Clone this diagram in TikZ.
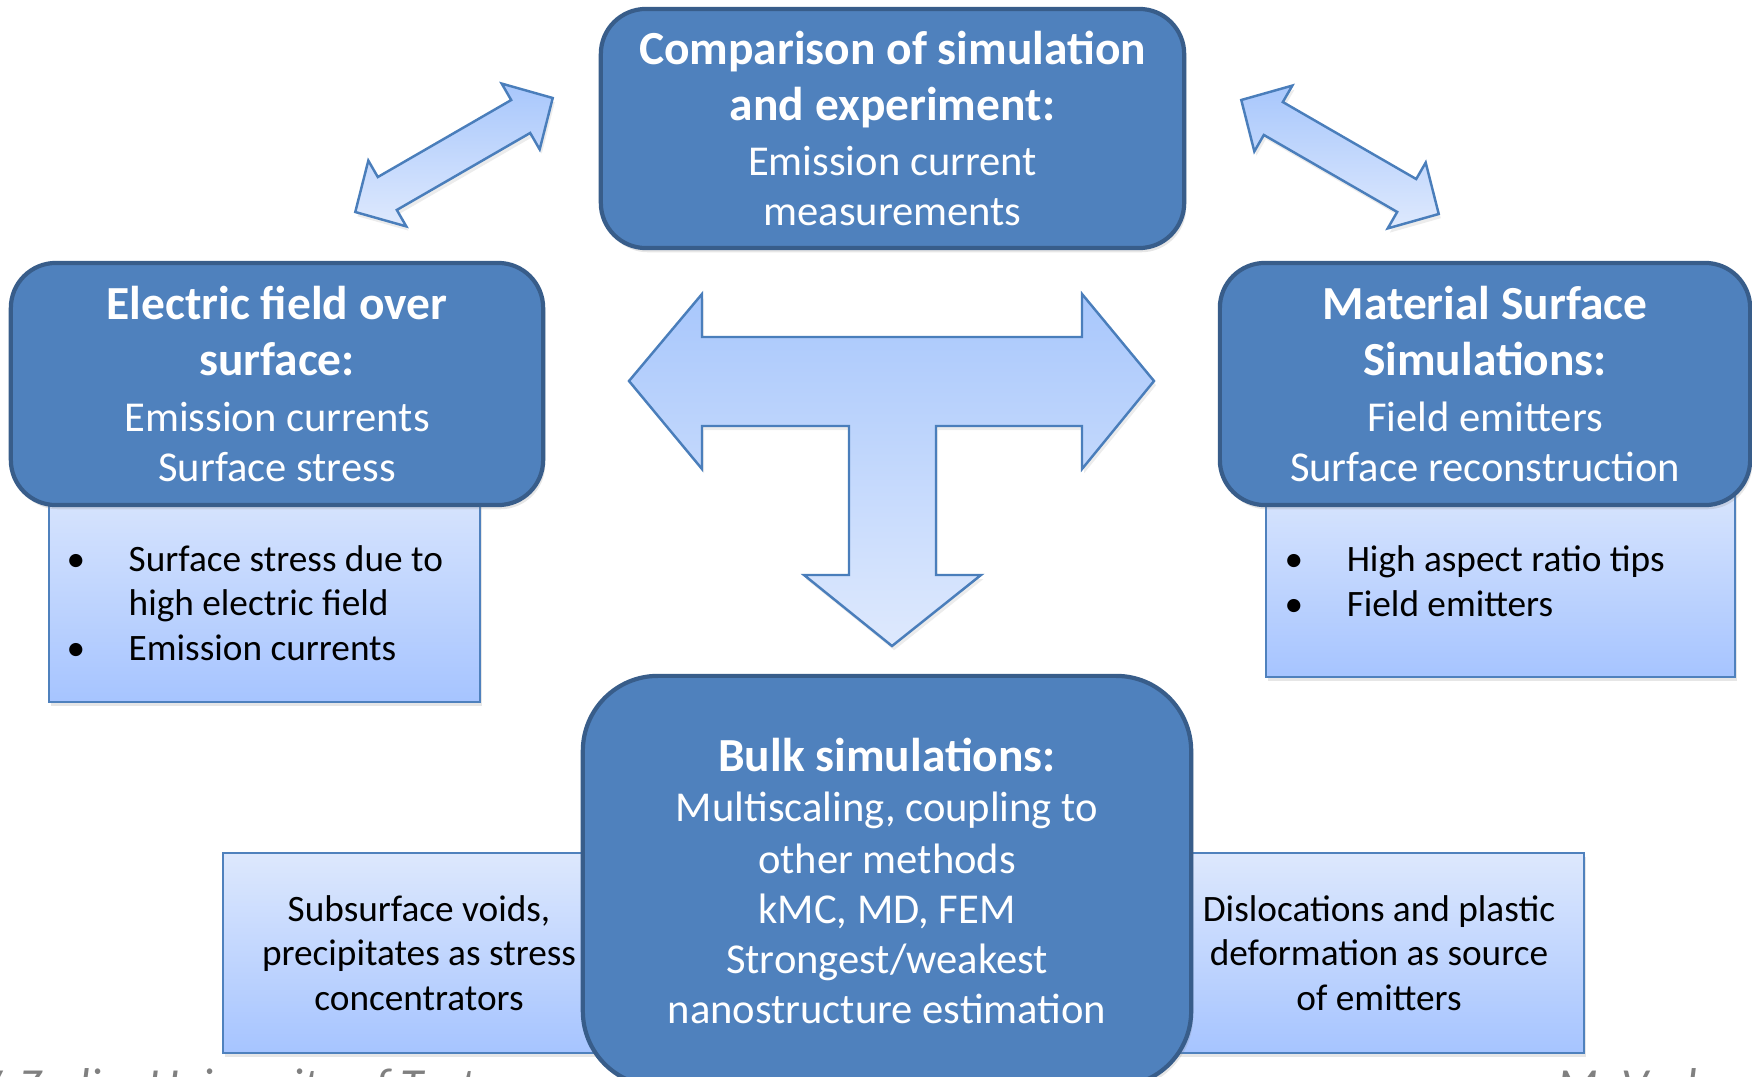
\documentclass[tikz,border=0pt]{standalone}
\usepackage{fontspec}
\setmainfont{Carlito}
\usepackage{tikz}
\usetikzlibrary{shadows}
\definecolor{boxblue}{RGB}{79,129,189}
\definecolor{boxedge}{RGB}{56,93,138}
\definecolor{paletop}{RGB}{221,232,253}
\definecolor{palebot}{RGB}{166,196,255}
\definecolor{arrowedge}{RGB}{74,126,187}
\definecolor{arrowdark}{RGB}{168,199,252}
\definecolor{arrowlight}{RGB}{222,233,253}
\definecolor{footgray}{RGB}{128,128,128}
\newcommand{\ttlfont}{\fontsize{13.5}{14.2}\selectfont\bfseries}
\newcommand{\bdyfont}{\fontsize{12.1}{14.2}\selectfont\mdseries}
\newcommand{\bulfont}{\fontsize{10.6}{12.7}\selectfont}

\begin{document}
\begin{tikzpicture}[x=0.01cm,y=-0.01cm,
    topic/.style={draw=boxedge,line width=1.2pt,fill=boxblue,text=white,
      rounded corners=0.45cm,align=center,inner sep=0pt,font=\bdyfont,
      drop shadow={shadow xshift=0.6pt,shadow yshift=-1.2pt,opacity=0.2}},
    detail/.style={draw=boxblue,line width=0.5pt,top color=paletop,bottom color=palebot,
      align=center,inner sep=0pt,font=\bulfont,
      drop shadow={shadow xshift=0.6pt,shadow yshift=-1.2pt,opacity=0.2}},
    blockarrow/.style={draw=arrowedge,line width=0.7pt,line join=miter,
      top color=arrowdark,bottom color=arrowlight,
      drop shadow={shadow xshift=0.6pt,shadow yshift=-1.2pt,opacity=0.15}},
    footer/.style={anchor=base west,inner sep=0pt,text=footgray,
      font=\fontsize{13.5}{16}\selectfont\itshape}]
  \useasboundingbox (0,0) rectangle (1752,1076);
  \clip (0,0) rectangle (1752,1076);

  % footer, cut by the page
  \node[footer] (author) at (-26,1101) {V. Zadin, University of Tartu};
  \node[footer] (speaker) at (1557,1101) {M. Veske};

  % light boxes behind
  \node[detail,minimum width=4.31cm,minimum height=2.30cm] (efdet) at (264.5,587) {};
  \node[anchor=west,inner sep=0pt,font=\bulfont] (eflist) at (66,607)
    {\begin{tabular}{@{}p{0.62cm}@{}l@{}}
      \textbullet & Surface stress due to\\
                  & high electric field\\
      \textbullet & Emission currents
    \end{tabular}};
  \node[detail,minimum width=4.69cm,minimum height=2.05cm] (msdet) at (1500.5,574.5) {};
  \node[anchor=west,inner sep=0pt,font=\bulfont] (mslist) at (1284,585)
    {\begin{tabular}{@{}p{0.62cm}@{}l@{}}
      \textbullet & High aspect ratio tips\\
      \textbullet & Field emitters
    \end{tabular}};
  \node[detail,minimum width=3.92cm,minimum height=2.00cm] (voids) at (419,953)
    {Subsurface voids,\\ precipitates as stress\\ concentrators};
  \node[detail,minimum width=4.10cm,minimum height=2.00cm] (disloc) at (1379,953)
    {Dislocations and plastic\\ deformation as source\\ of emitters};

  % main boxes
  \node[topic,minimum width=5.83cm,minimum height=2.39cm] (cmp) at (892.5,128.5)
    {\ttlfont Comparison of simulation\\[1.7pt] \ttlfont and experiment:\\[1.7pt]
     \bdyfont Emission current\\ \bdyfont measurements};
  \node[topic,minimum width=5.32cm,minimum height=2.42cm] (efield) at (277,384)
    {\ttlfont Electric field over\\[1.7pt] \ttlfont surface:\\[1.7pt]
     \bdyfont Emission currents\\ \bdyfont Surface stress};
  \node[topic,minimum width=5.30cm,minimum height=2.42cm] (matsurf) at (1485,384)
    {\ttlfont Material Surface\\[1.7pt] \ttlfont Simulations:\\[1.7pt]
     \bdyfont Field emitters\\ \bdyfont Surface reconstruction};
  \node[topic,rounded corners=0.75cm,minimum width=6.08cm,minimum height=4.10cm] (bulk) at (887,881)
    {\ttlfont Bulk simulations:\\
     \bdyfont Multiscaling, coupling to\\[0.6pt] \bdyfont other methods\\
     \bdyfont kMC, MD, FEM\\ \bdyfont Strongest/weakest\\
     \bdyfont nanostructure estimation};

  % block arrows
  \path[blockarrow] (629,381) -- (702,294) -- (702,337) -- (1082,337) -- (1082,294)
    -- (1154,381) -- (1082,469) -- (1082,426) -- (936,426) -- (936,575) -- (981,575)
    -- (892,646) -- (804,575) -- (849,575) -- (849,426) -- (702,426) -- (702,469) -- cycle;
  \path[blockarrow,shift={(454,155)},rotate=30] (-114,0) -- (-77,-38) -- (-77,-19)
    -- (77,-19) -- (77,-38) -- (114,0) -- (77,38) -- (77,19) -- (-77,19) -- (-77,38) -- cycle;
  \path[blockarrow,shift={(1340,157)},rotate=-30] (-114,0) -- (-77,-38) -- (-77,-19)
    -- (77,-19) -- (77,-38) -- (114,0) -- (77,38) -- (77,19) -- (-77,19) -- (-77,38) -- cycle;
\end{tikzpicture}
\end{document}
